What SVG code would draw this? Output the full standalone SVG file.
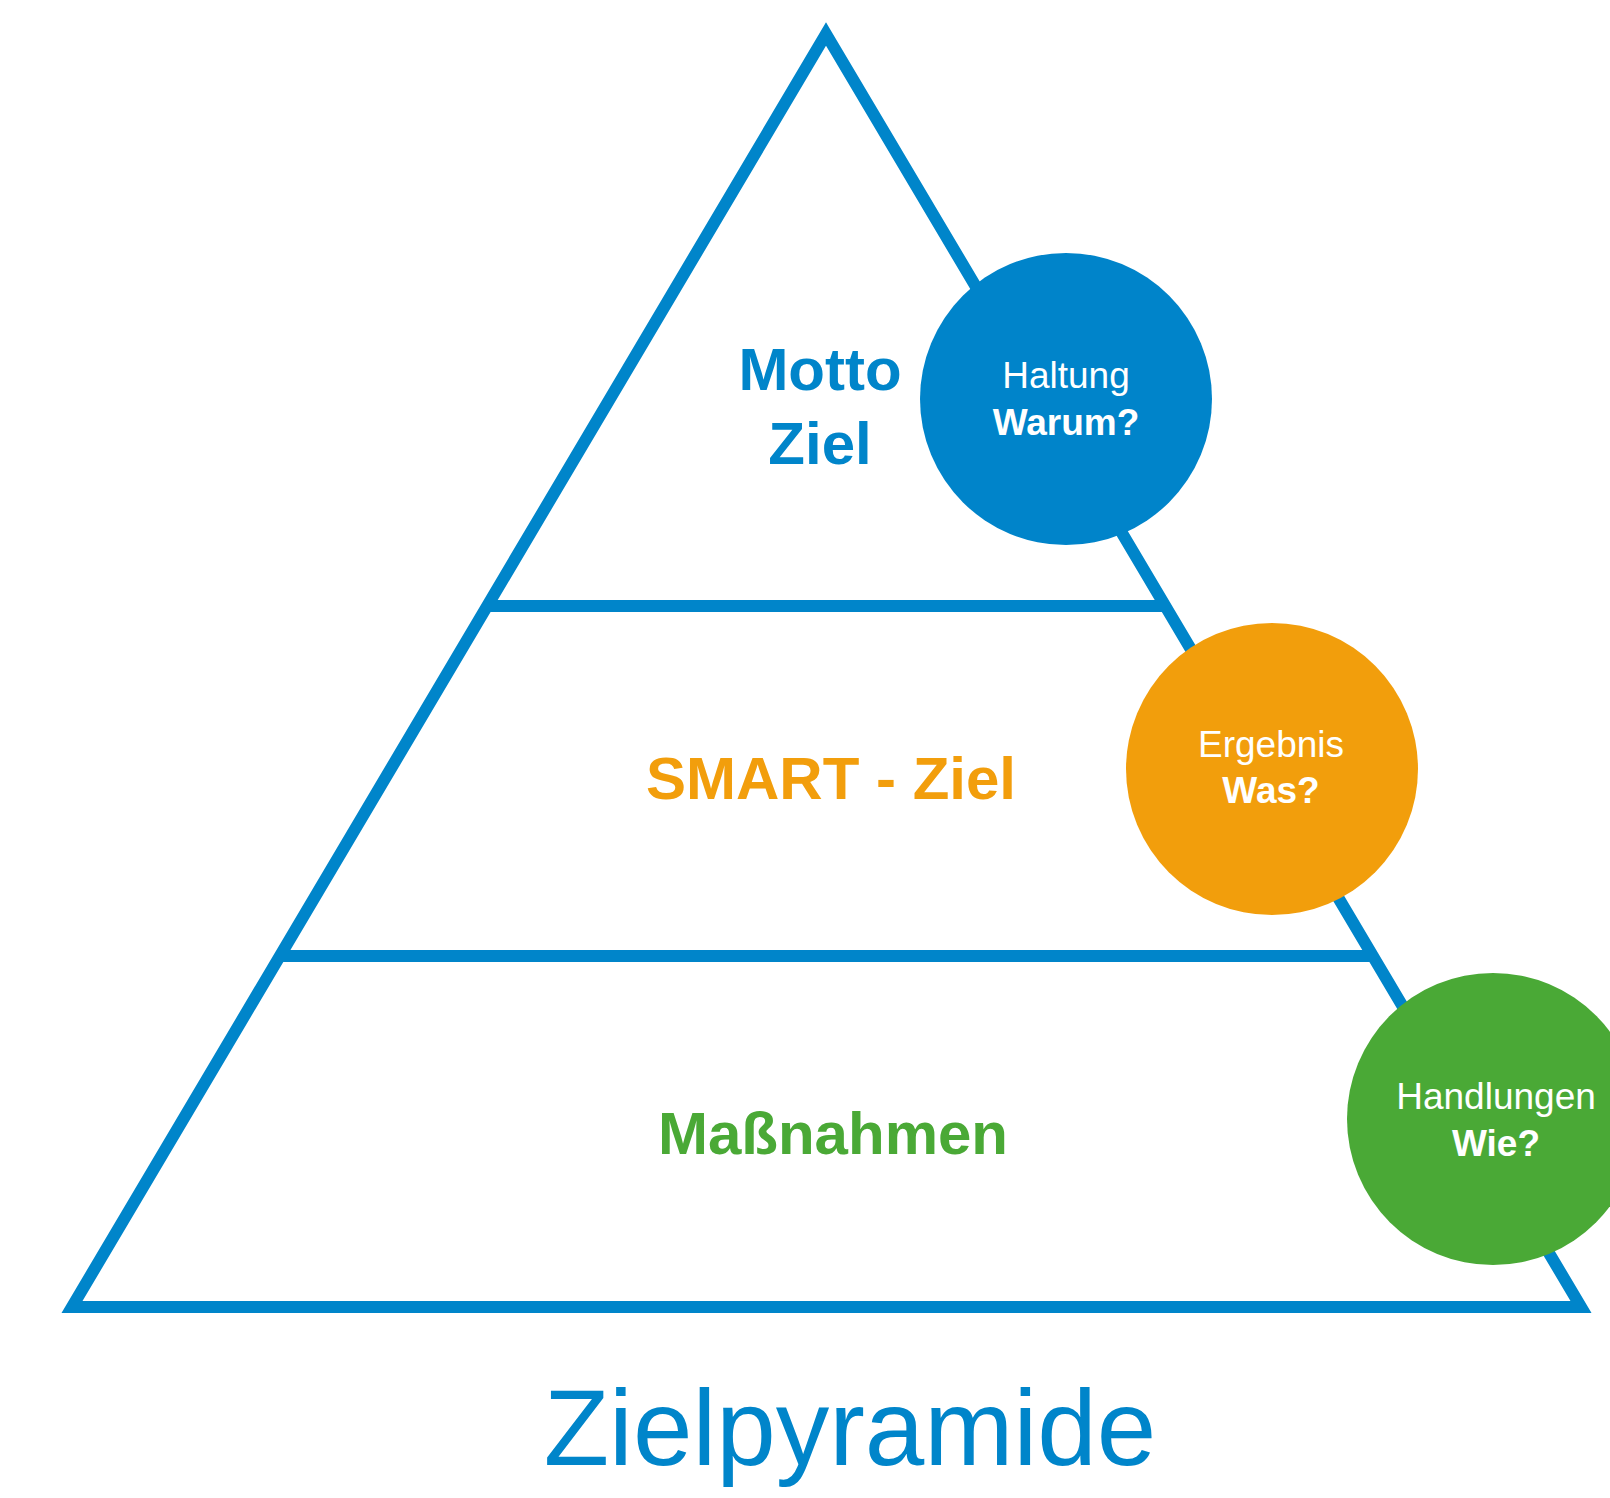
<svg xmlns="http://www.w3.org/2000/svg" width="1610" height="1498" viewBox="0 0 1610 1498">
<style>
.frame{fill:none;stroke:#0085CA;stroke-width:12;stroke-linejoin:miter;stroke-miterlimit:10}
.tier{font-family:"Liberation Sans",Arial,sans-serif;font-weight:bold;font-size:60px;text-anchor:middle}
.ct{font-family:"Liberation Sans",Arial,sans-serif;font-size:37px;fill:#ffffff;text-anchor:middle}
.ctb{font-weight:bold}
.title{font-family:"Liberation Sans",Arial,sans-serif;font-size:107px;fill:#0085CA;text-anchor:middle}
</style>
<rect width="1610" height="1498" fill="#ffffff"/>
<g id="connectors">
<polygon class="frame" points="826,34 1581,1307 72,1307"/>
<line class="frame" x1="487" y1="606" x2="1165" y2="606"/>
<line class="frame" x1="279" y1="956" x2="1373" y2="956"/>
</g>
<g id="tier-motto">
<text class="tier" fill="#0085CA" x="820" y="390">Motto</text>
<text class="tier" fill="#0085CA" x="820" y="464">Ziel</text>
</g>
<g id="tier-smart">
<text class="tier" fill="#F29E0C" x="831" y="799">SMART - Ziel</text>
</g>
<g id="tier-massnahmen">
<text class="tier" fill="#4AA936" x="833" y="1154">Maßnahmen</text>
</g>
<g id="circle-haltung">
<circle cx="1066" cy="399" r="146" fill="#0084CA"/>
<text class="ct" x="1066" y="388">Haltung</text>
<text class="ct ctb" x="1066" y="435">Warum?</text>
</g>
<g id="circle-ergebnis">
<circle cx="1272" cy="769" r="146" fill="#F29E0C"/>
<text class="ct" x="1271" y="757">Ergebnis</text>
<text class="ct ctb" x="1271" y="803">Was?</text>
</g>
<g id="circle-handlungen">
<circle cx="1493" cy="1119" r="146" fill="#4AA936"/>
<text class="ct" x="1496" y="1109">Handlungen</text>
<text class="ct ctb" x="1496" y="1156">Wie?</text>
</g>
<g id="title">
<text class="title" x="850" y="1465">Zielpyramide</text>
</g>
</svg>
